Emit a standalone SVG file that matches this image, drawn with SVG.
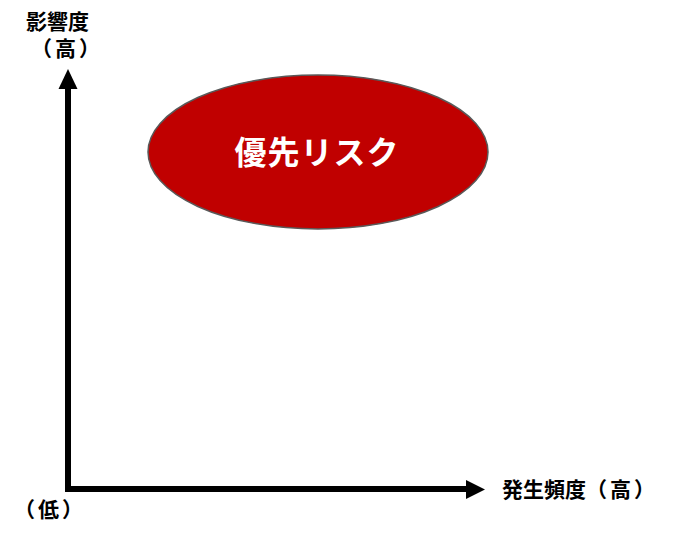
<svg xmlns="http://www.w3.org/2000/svg" width="676" height="537" viewBox="0 0 676 537">
<style>
.lbl{font-family:"Noto Sans CJK JP","Noto Sans CJK SC",sans-serif;font-size:21px;font-weight:bold;fill:#000}
.paren{letter-spacing:3px}
.axis{stroke:#000;stroke-width:6;fill:none}
.node-text{font-family:"Noto Sans CJK JP","Noto Sans CJK SC",sans-serif;font-size:32px;font-weight:bold;fill:#fff;letter-spacing:1px}
</style>
<g id="connectors">
<path class="axis" d="M68,489 L68,88"/>
<path d="M58.5,89 L68,69 L77.5,89 Z" fill="#000"/>
<path class="axis" d="M65,489 L467,489"/>
<path d="M466,480 L485,489.5 L466,499 Z" fill="#000"/>
</g>
<g id="label-y">
<text class="lbl" x="57.5" y="29" text-anchor="middle">影響度</text>
<text class="lbl paren" x="67" y="56" text-anchor="middle">（高）</text>
</g>
<g id="label-origin">
<text class="lbl paren" x="50" y="517" text-anchor="middle">（低）</text>
</g>
<g id="label-x">
<text class="lbl" x="502" y="497">発生頻度<tspan class="paren">（高）</tspan></text>
</g>
<g id="priority-risk">
<ellipse cx="318" cy="152" rx="170" ry="77" fill="#c00000" stroke="#595959" stroke-width="1.5"/>
<text class="node-text" x="317" y="164" text-anchor="middle">優先リスク</text>
</g>
</svg>
